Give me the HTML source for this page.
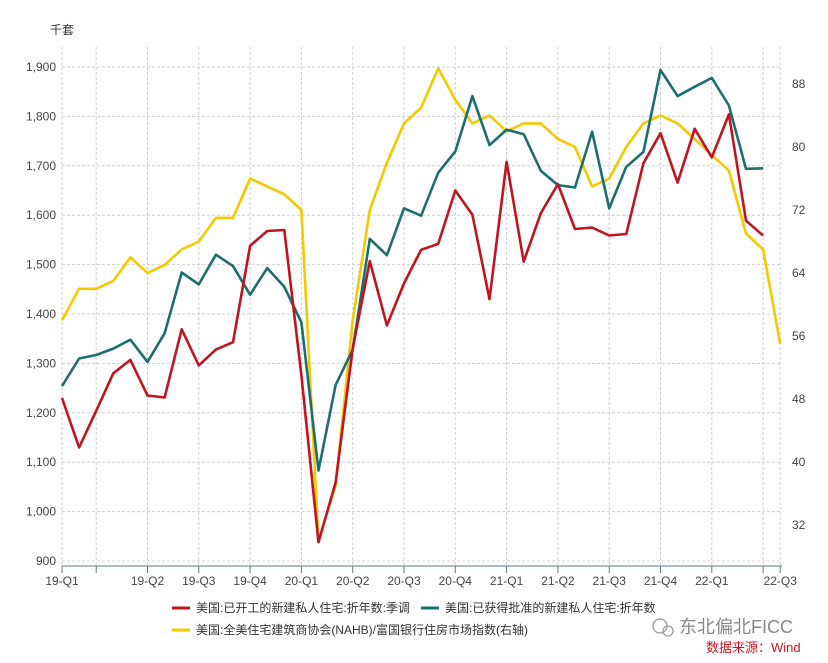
<!DOCTYPE html>
<html><head><meta charset="utf-8">
<style>
body{margin:0;background:#fff;}
svg{display:block;font-family:"Liberation Sans","Noto Sans CJK SC",sans-serif;}
</style></head>
<body>
<svg id="chart" width="828" height="663" viewBox="0 0 828 663" xmlns="http://www.w3.org/2000/svg">
<text x="50" y="34" font-size="12" fill="#333">千套</text>
<g id="grid"></g>
<g id="axes"></g>
<g id="series"></g>
<g>
  <g>
    <line x1="172" y1="608" x2="190" y2="608" stroke="#c0141f" stroke-width="3"/>
    <text x="196" y="612" font-size="12" fill="#333">美国:已开工的新建私人住宅:折年数:季调</text>
  </g>
  <g>
    <line x1="421" y1="608" x2="439" y2="608" stroke="#1d6e6e" stroke-width="3"/>
    <text x="445" y="612" font-size="12" fill="#333">美国:已获得批准的新建私人住宅:折年数</text>
  </g>
  <g>
    <line x1="172" y1="630" x2="190" y2="630" stroke="#f5c800" stroke-width="3"/>
    <text x="196" y="634" font-size="12" fill="#333">美国:全美住宅建筑商协会(NAHB)/富国银行住房市场指数(右轴)</text>
  </g>
</g>
<g>
  <circle cx="660" cy="626" r="7" fill="none" stroke="#999" stroke-width="1.3"/>
  <circle cx="668" cy="631" r="5" fill="none" stroke="#999" stroke-width="1.3"/>
  <text x="679" y="633" font-size="18" fill="#888">东北偏北FICC</text>
</g>
<text x="706" y="652" font-size="13" fill="#d0141f">数据来源：Wind</text>
</svg>
<script>
const xLabels = ["19-Q1","","19-Q2","19-Q3","19-Q4","20-Q1","20-Q2","20-Q3","20-Q4","21-Q1","21-Q2","21-Q3","21-Q4","22-Q1","","22-Q3"];
const xTickIdx = [0,2,5,8,11,14,17,20,23,26,29,32,35,38,41,42];
const leftTicks = [900,1000,1100,1200,1300,1400,1500,1600,1700,1800,1900];
const rightTicks = [32,40,48,56,64,72,80,88];
const starts = [1230,1130,1204,1280,1307,1235,1231,1369,1296,1328,1343,1538,1568,1570,1276,938,1059,1330,1507,1377,1462,1530,1542,1650,1601,1430,1708,1506,1604,1663,1572,1575,1559,1562,1705,1766,1666,1775,1717,1804,1589,1559];
const permits = [1254,1310,1317,1330,1348,1303,1361,1484,1460,1520,1497,1439,1493,1455,1383,1083,1256,1328,1552,1519,1614,1599,1686,1729,1841,1742,1773,1764,1690,1661,1656,1769,1614,1698,1728,1894,1841,1860,1878,1822,1694,1695];
const nahb = [58,62,62,63,66,64,65,67,68,71,71,76,75,74,72,30,37,58,72,78,83,85,90,86,83,84,82,83,83,81,80,75,76,80,83,84,83,81,79,77,69,67,55];

const NS="http://www.w3.org/2000/svg";
const X0=62, DX=17.1, XR=782;
function xs(i){return X0+i*DX;}
function yL(v){return 561-(v-900)*0.494;}
function yR(v){return 462-(v-40)*7.875;}
function mk(tag,attrs,parent){const e=document.createElementNS(NS,tag);for(const k in attrs)e.setAttribute(k,attrs[k]);parent.appendChild(e);return e;}
const grid=document.getElementById('grid'), axes=document.getElementById('axes'), series=document.getElementById('series');

leftTicks.forEach(v=>{
  const y=yL(v);
  const g=mk('line',{x1:X0,x2:XR,y1:y,y2:y,stroke:'#d0d0d0','stroke-dasharray':'3,2','stroke-width':1},grid);
  
  
  const t=mk('text',{x:56,y:y+4,'font-size':12,fill:'#444','text-anchor':'end'},axes);
  t.textContent=v.toLocaleString('en-US');
  
  
});
rightTicks.forEach(v=>{
  const t=mk('text',{x:792,y:yR(v)+4,'font-size':12,fill:'#444'},axes);
  t.textContent=v;
  
  
});
xTickIdx.forEach((idx,k)=>{
  const x=xs(idx);
  const g=mk('line',{x1:x,x2:x,y1:47,y2:566,stroke:'#d0d0d0','stroke-dasharray':'3,2','stroke-width':1},grid);
  
  
  const tk=mk('line',{x1:x,x2:x,y1:566,y2:573,stroke:'#5a7a8a','stroke-width':1},axes);
  
  
  if(xLabels[k]){
    const t=mk('text',{x:x,y:585,'font-size':12,fill:'#444','text-anchor':'middle'},axes);
    t.textContent=xLabels[k];
    
    
  }
});
const ax=mk('line',{x1:X0,x2:XR,y1:566,y2:566,stroke:'#5a7a8a','stroke-width':1},axes);



function drawLine(arr,yf,color,name){
  const pts=arr.map((v,i)=>xs(i).toFixed(1)+','+yf(v).toFixed(1)).join(' ');
  const p=mk('polyline',{points:pts,fill:'none',stroke:color,'stroke-width':2.6,'stroke-linejoin':'round'},series);
  
  
}
drawLine(nahb,yR,'#f5c800','nahb-index-line');
drawLine(permits,yL,'#1d6e6e','permits-line');
drawLine(starts,yL,'#c0141f','starts-line');
</script>
</body></html>
